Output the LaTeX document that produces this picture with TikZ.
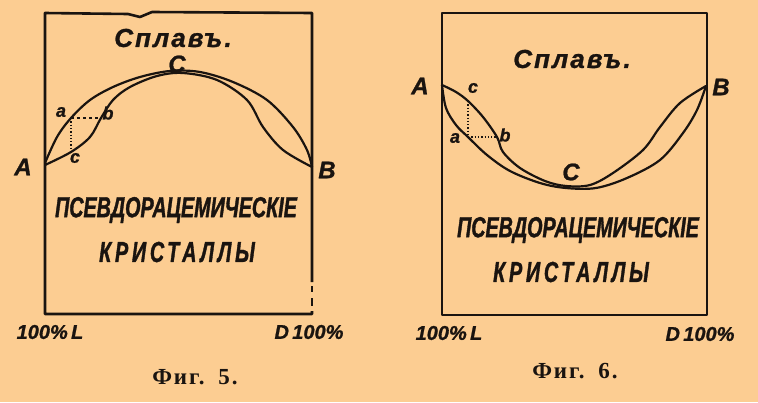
\documentclass[tikz,border=0pt]{standalone}
\usepackage{fontspec}
\setmainfont{Liberation Serif}
\newfontfamily\handn[FakeStretch=0.68,FakeBold=1.2]{Liberation Sans}
\newfontfamily\handw[FakeBold=1.0]{Liberation Sans}
\definecolor{paper}{HTML}{FCCD92}
\definecolor{ink}{HTML}{1A1410}
\begin{document}
\begin{tikzpicture}[x=1pt,y=-1pt,
  curve/.style={ink, line width=2.2pt, line join=round, line cap=round},
  frame/.style={ink, line width=2.6pt, line join=round},
  guide/.style={ink, line width=1.3pt, dotted},
  title/.style={text=ink, inner sep=0pt, font=\handw\bfseries\itshape\fontsize{26}{27}\selectfont\addfontfeature{LetterSpace=8}},
  region/.style={text=ink, inner sep=0pt, font=\handn\bfseries\itshape\fontsize{29}{30}\selectfont},
  regionsp/.style={text=ink, inner sep=0pt, font=\handn\bfseries\itshape\fontsize{29}{30}\selectfont\addfontfeature{LetterSpace=13}},
  capl/.style={text=ink, inner sep=0pt, font=\handw\bfseries\itshape\fontsize{24}{25}\selectfont},
  smalll/.style={text=ink, inner sep=0pt, font=\handw\bfseries\itshape\fontsize{18}{19}\selectfont},
  axisl/.style={text=ink, inner sep=0pt, font=\handw\bfseries\itshape\fontsize{20}{21}\selectfont},
  figl/.style={text=ink, inner sep=0pt, font=\bfseries\fontsize{23}{24}\selectfont\addfontfeature{LetterSpace=8}}
]
\fill[paper] (0,0) rectangle (758,402);
\useasboundingbox (0,0) rectangle (758,402);

% ---------------- Fig. 5 ----------------
\draw[frame] (312,311) -- (312,314) -- (45,314) -- (45,13) -- (128,14) -- (140,17) -- (152,12) -- (312,13) -- (312,282);
\draw[frame] (312,286) -- (312,292);
\draw[frame] (312,298) -- (312,306);

\coordinate (A5) at (45,163);
\coordinate (B5) at (312,167);
\coordinate (a5) at (71,118);
\coordinate (b5) at (101,118);
\coordinate (c5) at (71,152);

\draw[curve] plot[smooth, tension=0.55] coordinates {(A5) (57,137) (a5) (90,100) (113,87) (140,77) (170,71) (200,72) (233,82) (267,100) (293,127) (307,150) (B5)};
\draw[curve] plot[smooth, tension=0.55] coordinates {(45,165) (c5) (90,137) (b5) (113,100) (130,87) (157,76) (183,73) (217,80) (247,100) (263,127) (283,150) (B5)};
\draw[guide] (a5) -- (c5);
\draw[ink, line width=1.3pt, dash pattern=on 3pt off 3pt] (a5) -- (b5);

\node[title] (t5) at (173,38) {Сплавъ.};
\node[capl] (lC5) at (177,64) {C};
\node[capl] (lA5) at (23,167) {A};
\node[capl] (lB5) at (327,170) {B};
\node[smalll] (la5) at (61,112) {a};
\node[smalll] (lb5) at (108,113) {b};
\node[smalll] (lc5) at (75,158) {c};
\node[region] (p5) at (176,210) {ПСЕВДОРАЦЕМИЧЕСКІЕ};
\node[regionsp] (k5) at (177,252) {КРИСТАЛЛЫ};
\node[axisl] (L5) at (50,332) {100\%\,L};
\node[axisl] (D5) at (309,332) {D\,100\%};
\node[figl] (f5) at (195,377) {Фиг.\hspace{14pt}5.};

% ---------------- Fig. 6 ----------------
\draw[frame] (442,13) rectangle (707,315);

\coordinate (A6) at (442,85);
\coordinate (B6) at (706,86);
\coordinate (a6) at (468,137);
\coordinate (b6) at (497,137);
\coordinate (c6) at (468,101);

\draw[curve] plot[smooth, tension=0.55] coordinates {(A6) (446,108) (456,125) (a6) (487,155) (510,171) (540,183) (566,188) (596,188) (627,178) (660,160) (683,133) (697,110) (B6)};
\draw[curve] plot[smooth, tension=0.55] coordinates {(A6) (456,92) (c6) (483,117) (b6) (503,152) (520,168) (545,181) (566,186) (590,185) (613,173) (643,150) (660,127) (680,103) (B6)};
\draw[guide] (c6) -- (a6);
\draw[guide] (a6) -- (b6);

\node[title] (t6) at (572,59) {Сплавъ.};
\node[capl] (lC6) at (571,172) {C};
\node[capl] (lA6) at (420,86) {A};
\node[capl] (lB6) at (721,87) {B};
\node[smalll] (la6) at (455,138) {a};
\node[smalll] (lb6) at (505,135) {b};
\node[smalll] (lc6) at (473,88) {c};
\node[region] (p6) at (578,230) {ПСЕВДОРАЦЕМИЧЕСКІЕ};
\node[regionsp] (k6) at (571,272) {КРИСТАЛЛЫ};
\node[axisl] (L6) at (449,333) {100\%\,L};
\node[axisl] (D6) at (700,334) {D\,100\%};
\node[figl] (f6) at (575,371) {Фиг.\hspace{14pt}6.};
\end{tikzpicture}
\end{document}
